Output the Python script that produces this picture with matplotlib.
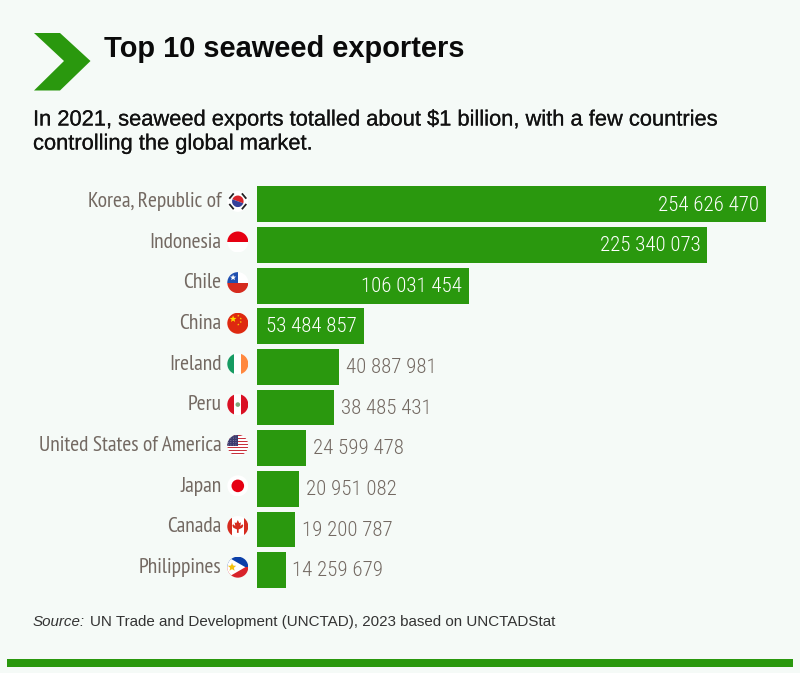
import numpy as np
import matplotlib
matplotlib.use("Agg")
import matplotlib.pyplot as plt
import matplotlib.patheffects as pe
from matplotlib.patches import Circle, Polygon, Rectangle, Wedge

# data
countries = ["Korea, Republic of", "Indonesia", "Chile", "China", "Ireland", "Peru",
             "United States of America", "Japan", "Canada", "Philippines"]
exports = [254626470, 225340073, 106031454, 53484857, 40887981, 38485431,
           24599478, 20951082, 19200787, 14259679]
value_labels = ["254 626 470", "225 340 073", "106 031 454", "53 484 857", "40 887 981",
                "38 485 431", "24 599 478", "20 951 082", "19 200 787", "14 259 679"]
flag_codes = ["kr", "id", "cl", "cn", "ie", "pe", "us", "jp", "ca", "ph"]

title = "Top 10 seaweed exporters"
subtitle = ["In 2021, seaweed exports totalled about $1 billion, with a few countries",
            "controlling the global market."]
source = "UN Trade and Development (UNCTAD), 2023 based on UNCTADStat"

GREEN = "#2a980e"
BG = "#f5faf7"
GREY = "#736962"
NARROW = ["Roboto Condensed", "Open Sans"]
NARROWER = ["PT Sans Narrow", "Roboto Condensed", "Open Sans"]
SANS = ["Liberation Sans", "DejaVu Sans"]

W, H = 800, 673
fig = plt.figure(figsize=(W / 100, H / 100), dpi=100, facecolor=BG)

# bars, in pixel-derived axes position
top, bottom = 184, 590.5
ax = fig.add_axes([257 / W, 1 - bottom / H, (766 - 257) / W, (bottom - top) / H])
ax.set_facecolor("none")
y = np.arange(len(countries))
ax.barh(y, exports, height=0.88, color=GREEN)
ax.set_xlim(0, exports[0])
ax.set_ylim(len(countries) - 0.5, -0.5)
ax.axis("off")

for i, (v, lab) in enumerate(zip(exports, value_labels)):
    if v > 50000000:
        ax.annotate(lab, (v, i), xytext=(-5, -0.5), textcoords="offset points", ha="right",
                    va="center", color="white", fontsize=15, family=NARROW, fontweight=300)
    else:
        ax.annotate(lab, (v, i), xytext=(5, -0.5), textcoords="offset points", ha="left",
                    va="center", color=GREY, fontsize=15, family=NARROW, fontweight=300)
    ax.annotate(countries[i], (0, i), xytext=(-25.5, 2), textcoords="offset points", ha="right",
                va="center", color=GREY, fontsize=15.5, family=NARROWER)

# overlay in pixel coordinates for header, footer and flags
ov = fig.add_axes([0, 0, 1, 1])
ov.set_xlim(0, W)
ov.set_ylim(H, 0)
ov.axis("off")
ov.patch.set_alpha(0)

ov.add_patch(Polygon([(34, 33), (60, 33), (90.5, 61), (60, 90.5), (34, 90.5), (64, 61)],
                     closed=True, color=GREEN, lw=0))
ov.text(104, 49, title, fontsize=20.9, fontweight="bold", family=SANS, va="center", color="#0a0a0a")
thick = [pe.withStroke(linewidth=0.15, foreground="#111111")]
ov.text(33, 120, subtitle[0], fontsize=15.75, family=SANS, va="center", color="#111111", path_effects=thick)
ov.text(33, 144, subtitle[1], fontsize=15.75, family=SANS, va="center", color="#111111", path_effects=thick)
ov.text(33, 622, "Source:", fontsize=10.9, family=SANS, style="italic", va="center", color="#333333")
ov.text(90, 622, source, fontsize=10.9, family=SANS, va="center", color="#333333")
ov.add_patch(Rectangle((7, 659), 786, 7.5, color=GREEN, lw=0))


def draw_flag(code, cx, cy, r=10.5):
    clip = Circle((cx, cy), r, transform=ov.transData)

    def rect(x0, y0, x1, y1, c):
        p = Rectangle((cx + x0 * r, cy + y0 * r), (x1 - x0) * r, (y1 - y0) * r, color=c, lw=0)
        ov.add_patch(p)
        p.set_clip_path(clip)

    def disc(dx, dy, rad, c):
        p = Circle((cx + dx * r, cy + dy * r), rad * r, color=c, lw=0)
        ov.add_patch(p)
        p.set_clip_path(clip)

    def star(dx, dy, rad, c):
        ang = np.linspace(-np.pi / 2, 1.5 * np.pi, 11)[:-1]
        rr = np.where(np.arange(10) % 2 == 0, rad, rad * 0.42) * r
        pts = np.c_[cx + dx * r + rr * np.cos(ang), cy + dy * r + rr * np.sin(ang)]
        p = Polygon(pts, closed=True, color=c, lw=0)
        ov.add_patch(p)
        p.set_clip_path(clip)

    def poly(points, c):
        p = Polygon([(cx + a * r, cy + b * r) for a, b in points], closed=True, color=c, lw=0)
        ov.add_patch(p)
        p.set_clip_path(clip)

    rect(-1, -1, 1, 1, "white")
    if code == "kr":
        ov.add_patch(Wedge((cx, cy), 0.55 * r, 200, 20, color="#d8232a", lw=0))
        ov.add_patch(Wedge((cx, cy), 0.55 * r, 20, 200, color="#34409a", lw=0))
        for a in [40, 140, 220, 320]:
            t = np.deg2rad(a)
            ov.plot([cx + 0.82 * r * np.cos(t - 0.3), cx + 0.82 * r * np.cos(t + 0.3)],
                    [cy + 0.82 * r * np.sin(t - 0.3), cy + 0.82 * r * np.sin(t + 0.3)],
                    color="#222222", lw=1.3)
    elif code == "id":
        rect(-1, -1, 1, 0, "#e60012")
    elif code == "cl":
        rect(-1, 0, 1, 1, "#d52b1e")
        rect(-1, -1, 0, 0, "#1f4fb0")
        star(-0.45, -0.48, 0.3, "white")
    elif code == "cn":
        rect(-1, -1, 1, 1, "#de2910")
        star(-0.45, -0.4, 0.34, "#ffde00")
        for dx, dy in [(0.05, -0.72), (0.28, -0.45), (0.28, -0.12), (0.05, 0.12)]:
            star(dx, dy, 0.11, "#ffde00")
    elif code == "ie":
        rect(-1, -1, -0.33, 1, "#169b62")
        rect(0.33, -1, 1, 1, "#ff883e")
    elif code == "pe":
        rect(-1, -1, -0.33, 1, "#d91023")
        rect(0.33, -1, 1, 1, "#d91023")
        disc(0, 0, 0.22, "#7fa97a")
    elif code == "us":
        for k in range(7):
            rect(-1, -1 + k * 2 / 7, 1, -1 + (k + 0.5) * 2 / 7, "#c8323c")
        rect(-1, -1, 0.05, 0.05, "#3c3b6e")
        for dx in np.arange(-0.9, 0.05, 0.24):
            for dy in np.arange(-0.9, 0.0, 0.22):
                disc(dx, dy, 0.035, "#c9cbe0")
    elif code == "jp":
        disc(0, 0, 0.6, "#e60012")
    elif code == "ca":
        rect(-1, -1, -0.55, 1, "#d52b1e")
        rect(0.55, -1, 1, 1, "#d52b1e")
        poly([(0, -0.62), (0.14, -0.32), (0.3, -0.4), (0.24, -0.05), (0.45, -0.22), (0.52, -0.08),
              (0.42, 0.12), (0.08, 0.28), (0.08, 0.6), (-0.08, 0.6), (-0.08, 0.28), (-0.42, 0.12),
              (-0.52, -0.08), (-0.45, -0.22), (-0.24, -0.05), (-0.3, -0.4), (-0.14, -0.32)], "#d52b1e")
    elif code == "ph":
        rect(-1, -1, 1, 0, "#0b3fa8")
        rect(-1, 0, 1, 1, "#d8232a")
        poly([(-1.1, -1.05), (0.72, 0), (-1.1, 1.05)], "white")
        disc(-0.55, 0, 0.2, "#f4c20d")
        star(-0.55, 0, 0.42, "#f4c20d")


for code, i in zip(flag_codes, y):
    cy = top + (bottom - top) * (i + 0.5) / len(countries) - 3
    draw_flag(code, 237.8, cy)

fig.savefig("out.png", dpi=100, facecolor=BG)
